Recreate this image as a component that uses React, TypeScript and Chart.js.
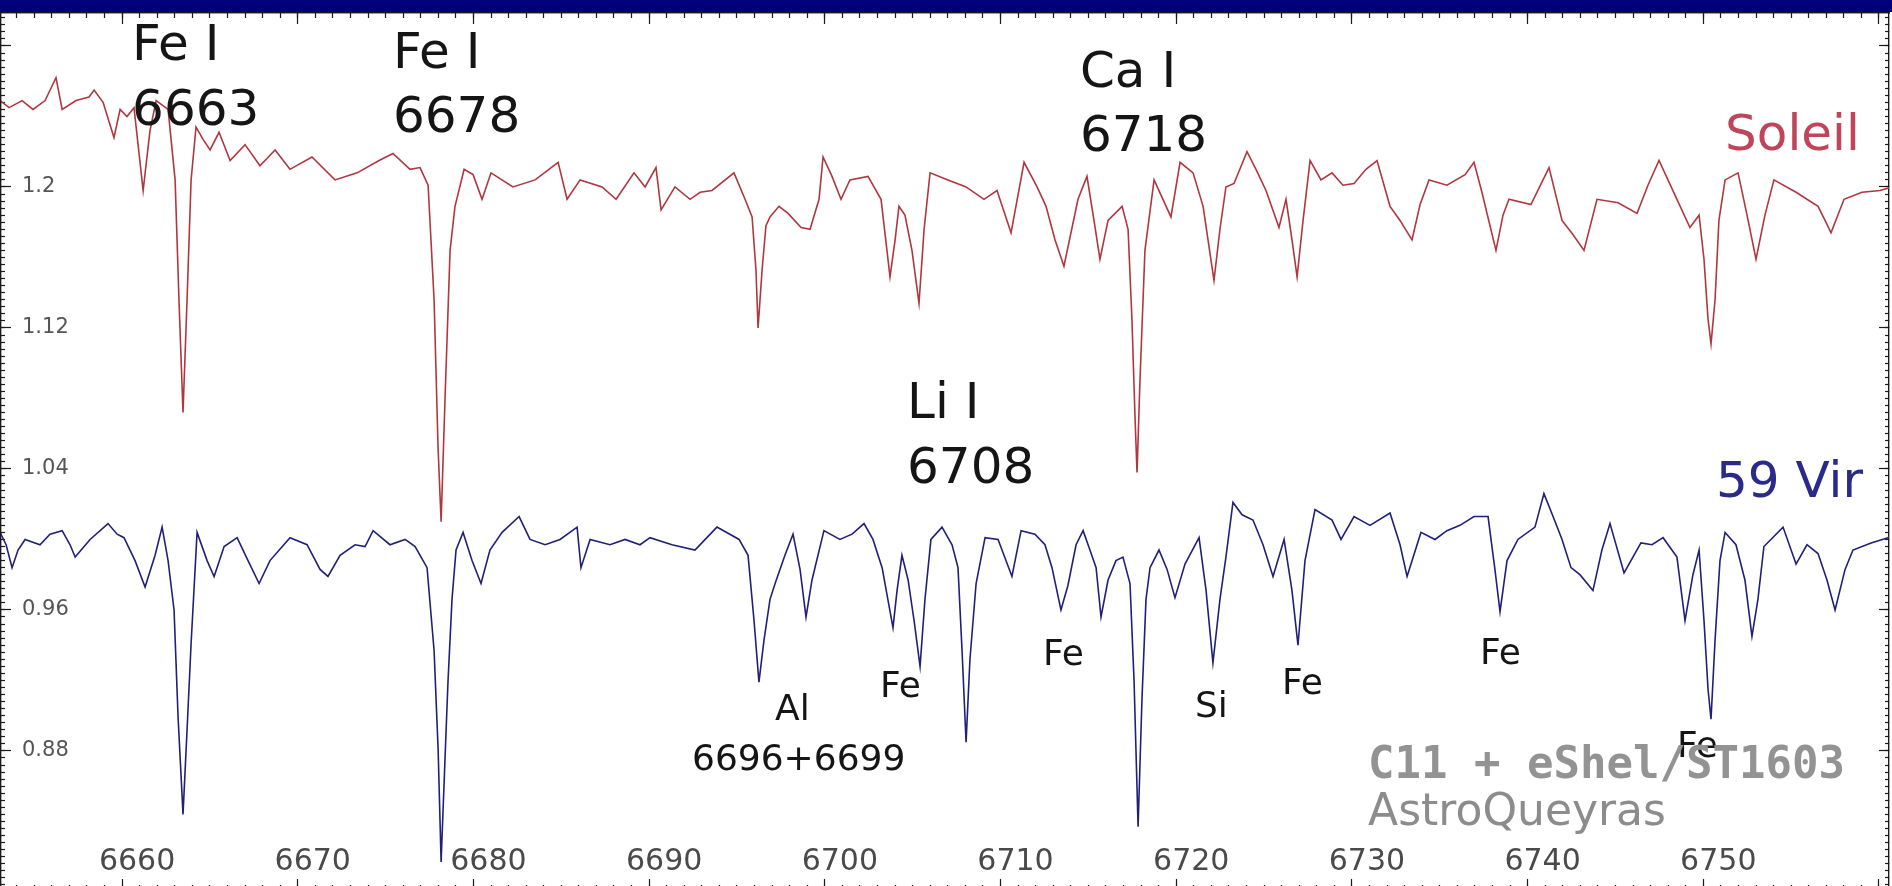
import React, { useEffect, useRef } from "react";
import { Chart, registerables } from "chart.js";

Chart.register(...registerables);

// ---- Data (wavelength in Å, relative flux) ----
const soleilWavelength = [
  6653.06, 6653.57, 6654.31, 6654.93, 6655.62, 6656.24, 6656.59, 6657.38, 6658.12, 6658.41,
  6658.92, 6659.54, 6659.89, 6660.28, 6660.68, 6661.2, 6661.59, 6661.94, 6662.62, 6663.02,
  6663.24, 6663.47, 6663.7, 6663.93, 6664.21, 6664.61, 6665.01, 6665.52, 6666.15, 6667.0,
  6667.85, 6668.71, 6669.56, 6670.81, 6672.12, 6673.38, 6674.63, 6675.42, 6676.39, 6676.96,
  6677.42, 6677.76, 6677.99, 6678.16, 6678.38, 6678.67, 6678.95, 6679.47, 6679.98, 6680.49,
  6681.0, 6682.25, 6683.51, 6684.82, 6685.33, 6686.07, 6687.32, 6688.12, 6689.14, 6689.77,
  6690.39, 6690.68, 6691.47, 6692.33, 6692.9, 6693.58, 6694.83, 6695.46, 6695.86, 6696.08,
  6696.2, 6696.43, 6696.65, 6696.88, 6697.39, 6697.91, 6698.65, 6699.16, 6699.67, 6699.9,
  6700.41, 6700.92, 6701.43, 6702.46, 6703.2, 6703.71, 6704.0, 6704.22, 6704.56, 6704.96,
  6705.36, 6705.65, 6705.99, 6707.01, 6708.04, 6709.06, 6709.8, 6710.6, 6711.34, 6712.08,
  6712.59, 6713.1, 6713.61, 6714.41, 6714.92, 6715.32, 6715.66, 6716.12, 6716.92, 6717.26,
  6717.48, 6717.66, 6717.77, 6717.94, 6718.22, 6718.74, 6719.7, 6720.22, 6720.96, 6721.53,
  6721.81, 6722.15, 6722.49, 6722.83, 6723.29, 6724.03, 6724.54, 6725.11, 6725.85, 6726.25,
  6726.59, 6726.88, 6727.22, 6727.62, 6728.24, 6728.87, 6729.49, 6730.12, 6730.8, 6731.43,
  6732.17, 6732.74, 6733.42, 6733.88, 6734.39, 6735.41, 6736.44, 6736.95, 6737.4, 6737.86,
  6738.2, 6738.6, 6738.94, 6740.19, 6741.22, 6741.96, 6742.58, 6743.21, 6743.95, 6745.15,
  6746.23, 6746.85, 6747.48, 6748.5, 6749.24, 6749.76, 6750.04, 6750.27, 6750.44, 6750.67,
  6750.89, 6751.24, 6751.98, 6752.49, 6753.0, 6753.51, 6754.02, 6755.28, 6756.53, 6756.93,
  6757.27, 6758.01, 6759.03, 6760.06, 6760.74,
];
const soleilFlux = [
  1.249, 1.245, 1.249, 1.244, 1.249, 1.262, 1.244, 1.249, 1.251, 1.255,
  1.248, 1.228, 1.244, 1.24, 1.245, 1.198, 1.232, 1.249, 1.244, 1.204,
  1.136, 1.072, 1.136, 1.204, 1.234, 1.227, 1.221, 1.231, 1.215, 1.224,
  1.212, 1.221, 1.21, 1.217, 1.204, 1.208, 1.215, 1.219, 1.21, 1.211,
  1.201, 1.136, 1.051, 1.01, 1.079, 1.164, 1.189, 1.21, 1.207, 1.193,
  1.208, 1.2, 1.204, 1.214, 1.193, 1.204, 1.2, 1.193, 1.208, 1.2,
  1.211, 1.187, 1.2, 1.193, 1.197, 1.198, 1.208, 1.193, 1.183, 1.153,
  1.12, 1.153, 1.178, 1.183, 1.189, 1.185, 1.177, 1.176, 1.193, 1.217,
  1.206, 1.193, 1.204, 1.206, 1.193, 1.149, 1.17, 1.189, 1.184, 1.164,
  1.134, 1.176, 1.208, 1.204, 1.2, 1.193, 1.198, 1.174, 1.214, 1.2,
  1.189, 1.17, 1.155, 1.193, 1.206, 1.181, 1.159, 1.181, 1.189, 1.176,
  1.125, 1.068, 1.038, 1.091, 1.164, 1.204, 1.183, 1.214, 1.208, 1.189,
  1.17, 1.147, 1.176, 1.2, 1.202, 1.22, 1.21, 1.198, 1.177, 1.193,
  1.17, 1.149, 1.181, 1.215, 1.204, 1.208, 1.201, 1.202, 1.21, 1.215,
  1.189, 1.181, 1.17, 1.19, 1.204, 1.201, 1.207, 1.214, 1.197, 1.178,
  1.164, 1.184, 1.193, 1.19, 1.211, 1.181, 1.173, 1.164, 1.193, 1.191,
  1.185, 1.201, 1.215, 1.193, 1.177, 1.184, 1.159, 1.125, 1.111, 1.136,
  1.181, 1.204, 1.208, 1.184, 1.159, 1.184, 1.204, 1.197, 1.189, 1.181,
  1.174, 1.193, 1.197, 1.198, 1.2,
];

const virWavelength = [
  6653.06, 6653.4, 6653.74, 6654.08, 6654.48, 6655.33, 6655.9, 6656.59, 6657.04, 6657.33,
  6658.18, 6659.2, 6659.72, 6660.11, 6660.74, 6661.31, 6661.88, 6662.28, 6662.62, 6662.96,
  6663.19, 6663.47, 6663.7, 6663.93, 6664.27, 6664.84, 6665.24, 6665.81, 6666.55, 6667.17,
  6667.8, 6668.42, 6669.56, 6670.53, 6671.27, 6671.72, 6672.41, 6673.26, 6673.83, 6674.29,
  6675.25, 6676.11, 6676.68, 6677.36, 6677.76, 6677.99, 6678.16, 6678.38, 6678.55, 6678.78,
  6679.01, 6679.41, 6679.92, 6680.43, 6680.94, 6681.63, 6682.6, 6683.22, 6684.08, 6684.93,
  6685.9, 6686.12, 6686.64, 6687.77, 6688.63, 6689.48, 6690.05, 6691.3, 6692.61, 6693.86,
  6695.12, 6695.63, 6695.97, 6696.25, 6696.54, 6696.88, 6697.17, 6697.73, 6698.19, 6698.59,
  6698.93, 6699.27, 6699.95, 6700.86, 6701.55, 6702.23, 6702.74, 6703.26, 6703.88, 6704.11,
  6704.39, 6704.74, 6705.08, 6705.42, 6705.7, 6706.04, 6706.67, 6707.24, 6707.58, 6707.81,
  6708.04, 6708.26, 6708.61, 6709.12, 6709.86, 6710.65, 6711.17, 6711.96, 6712.53, 6712.93,
  6713.44, 6713.84, 6714.3, 6714.7, 6715.09, 6715.44, 6715.72, 6716.12, 6716.57, 6716.97,
  6717.37, 6717.6, 6717.83, 6718.05, 6718.28, 6718.51, 6719.02, 6719.48, 6719.93, 6720.5,
  6721.3, 6721.7, 6722.09, 6722.49, 6722.83, 6723.23, 6723.75, 6724.37, 6724.94, 6725.51,
  6726.14, 6726.59, 6726.93, 6727.33, 6727.9, 6728.87, 6729.38, 6730.12, 6731.03, 6732.17,
  6732.74, 6733.14, 6733.93, 6734.73, 6735.41, 6736.15, 6736.95, 6737.75, 6738.14, 6738.43,
  6738.83, 6739.45, 6740.42, 6740.93, 6741.45, 6741.96, 6742.47, 6742.98, 6743.72, 6744.23,
  6744.69, 6745.49, 6746.45, 6747.08, 6747.71, 6748.5, 6748.96, 6749.41, 6749.76, 6750.04,
  6750.27, 6750.44, 6750.67, 6750.95, 6751.24, 6751.86, 6752.37, 6752.77, 6753.11, 6753.45,
  6754.54, 6755.28, 6755.9, 6756.53, 6757.04, 6757.5, 6758.07, 6758.52, 6759.55, 6760.51,
  6760.74,
];
const virFlux = [
  1.004, 0.997, 0.984, 0.994, 1.0, 0.997, 1.003, 1.005, 0.997, 0.99,
  1.0, 1.009, 1.003, 1.001, 0.988, 0.973, 0.991, 1.007, 0.988, 0.96,
  0.899, 0.844, 0.892, 0.941, 1.004, 0.988, 0.979, 0.996, 1.001, 0.988,
  0.975, 0.988, 1.001, 0.997, 0.983, 0.979, 0.991, 0.997, 0.996, 1.005,
  0.997, 1.0, 0.996, 0.984, 0.937, 0.881, 0.817, 0.875, 0.919, 0.966,
  0.994, 1.004, 0.988, 0.975, 0.994, 1.004, 1.013, 1.0, 0.997, 1.0,
  1.007, 0.984, 1.0, 0.997, 1.0, 0.997, 1.001, 0.997, 0.994, 1.007,
  1.0, 0.991, 0.954, 0.919, 0.943, 0.966, 0.975, 0.991, 1.003, 0.983,
  0.956, 0.977, 1.005, 1.0, 1.003, 1.009, 1.0, 0.984, 0.95, 0.971,
  0.991, 0.977, 0.954, 0.928, 0.966, 1.0, 1.007, 0.997, 0.984, 0.937,
  0.885, 0.932, 0.975, 1.001, 1.0, 0.979, 1.005, 1.003, 0.997, 0.984,
  0.96, 0.974, 0.997, 1.005, 0.994, 0.984, 0.956, 0.977, 0.988, 0.99,
  0.975, 0.92, 0.837, 0.909, 0.966, 0.984, 0.994, 0.983, 0.967, 0.986,
  1.001, 0.971, 0.93, 0.966, 0.99, 1.021, 1.014, 1.011, 0.997, 0.979,
  1.0, 0.971, 0.94, 0.988, 1.017, 1.011, 1.0, 1.013, 1.008, 1.015,
  0.997, 0.979, 1.004, 1.0, 1.005, 1.008, 1.013, 1.013, 0.983, 0.959,
  0.988, 1.0, 1.007, 1.026, 1.013, 1.0, 0.984, 0.98, 0.971, 0.994,
  1.009, 0.981, 0.998, 0.997, 1.001, 0.99, 0.954, 0.98, 0.994, 0.954,
  0.915, 0.898, 0.943, 0.988, 1.004, 0.997, 0.977, 0.945, 0.966, 0.996,
  1.007, 0.986, 0.997, 0.992, 0.977, 0.96, 0.983, 0.994, 0.998, 1.001,
  1.003,
];

// Axis ranges and tick steps
const xMin = 6653.11;
const xMax = 6760.57;
const yMin = 0.8011;
const yMax = 1.2987;
const xMajorStep = 10;
const xMinorStep = 1;
const yMajorStep = 0.08;
const yMinorStep = 0.004;

// Annotation texts anchored at (wavelength, flux), left / baseline
const annotationTexts = [
  "Fe I", "6663", "Fe I", "6678", "Ca I", "6718", "Li I", "6708",
  "Soleil", "59 Vir",
  "Al", "6696+6699", "Fe", "Fe", "Si", "Fe", "Fe", "Fe",
  "C11 + eShel/ST1603", "AstroQueyras",
];
const annotationWavelength = [
  6660.57, 6660.57, 6675.42, 6675.42, 6714.52, 6714.52, 6704.68, 6704.68,
  6751.24, 6750.72,
  6697.17, 6692.44, 6703.14, 6712.42, 6721.07, 6726.02, 6737.29, 6748.5,
  6730.92, 6730.92,
];
const annotationFlux = [
  1.272, 1.235, 1.2675, 1.2312, 1.2567, 1.2204, 1.0689, 1.0321,
  1.221, 1.0241,
  0.8976, 0.8692, 0.9106, 0.9288, 0.8993, 0.9123, 0.9294, 0.8766,
  0.8647, 0.838,
];
const annotationKind = [
  "ion", "ion", "ion", "ion", "ion", "ion", "ion", "ion",
  "sun", "vir",
  "line", "line", "line", "line", "line", "line", "line", "line",
  "mono", "credit",
];

const annotationStyles: Record<string, { font: string; color: string }> = {
  ion: { font: "50px 'DejaVu Sans'", color: "#151515" },
  sun: { font: "50px 'DejaVu Sans'", color: "#c0445a" },
  vir: { font: "50px 'DejaVu Sans'", color: "#2a2a8a" },
  line: { font: "36px 'DejaVu Sans'", color: "#151515" },
  mono: { font: "bold 44px 'DejaVu Sans Mono'", color: "#939393" },
  credit: { font: "44px 'DejaVu Sans'", color: "#8c8c8c" },
};

const annotationPlugin = {
  id: "spectrumAnnotations",
  beforeDraw(chart: any) {
    const ctx = chart.ctx;
    ctx.save();
    ctx.fillStyle = "#ffffff";
    ctx.fillRect(0, 0, chart.width, chart.height);
    ctx.fillStyle = "#00007a";
    ctx.fillRect(0, 0, chart.width, 12);
    ctx.restore();
  },
  afterDatasetsDraw(chart: any) {
    const ctx = chart.ctx;
    const xs = chart.scales.x;
    const ys = chart.scales.y;
    ctx.save();
    ctx.textAlign = "left";
    ctx.textBaseline = "alphabetic";
    annotationTexts.forEach((t, i) => {
      const st = annotationStyles[annotationKind[i]];
      ctx.font = st.font;
      ctx.fillStyle = st.color;
      ctx.fillText(t, xs.getPixelForValue(annotationWavelength[i]), ys.getPixelForValue(annotationFlux[i]));
    });
    ctx.restore();
  },
};

const zeroFit = (horizontal: boolean) => (s: any) => {
  if (horizontal) s.height = 0; else s.width = 0;
  s.paddingTop = 0;
  s.paddingBottom = 0;
  s.paddingLeft = 0;
  s.paddingRight = 0;
};

function xAxis(position: string, major: boolean, labels: boolean) {
  return {
    type: "linear",
    position,
    min: xMin,
    max: xMax,
    afterFit: zeroFit(true),
    border: { display: true, color: "#1a1a1a", width: 1.2 },
    grid: { display: true, drawOnChartArea: false, drawTicks: true, tickLength: major ? -11 : -5, color: "#1a1a1a", tickWidth: 1.2 },
    ticks: {
      display: labels,
      stepSize: major ? xMajorStep : xMinorStep,
      includeBounds: false,
      autoSkip: false,
      maxRotation: 0,
      mirror: true,
      padding: 10,
      labelOffset: 15,
      color: "#4a4a4a",
      font: { family: "'DejaVu Sans'", size: 30 },
      callback: (v: number) => (v > 6755 ? "" : String(v)),
    },
  };
}

function yAxis(position: string, major: boolean, labels: boolean) {
  return {
    type: "linear",
    position,
    min: yMin,
    max: yMax,
    afterFit: zeroFit(false),
    border: { display: true, color: "#1a1a1a", width: 1.2 },
    grid: { display: true, drawOnChartArea: false, drawTicks: true, tickLength: major ? -10 : -4, color: "#1a1a1a", tickWidth: 1.2 },
    ticks: {
      display: labels,
      stepSize: major ? yMajorStep : yMinorStep,
      includeBounds: false,
      autoSkip: false,
      mirror: true,
      padding: 21,
      color: "#555555",
      font: { family: "'DejaVu Sans'", size: 21 },
      callback: (v: number) => (v > 1.25 ? "" : String(Number(v.toFixed(3)))),
    },
  };
}

export default function App() {
  const canvasRef = useRef<HTMLCanvasElement | null>(null);

  useEffect(() => {
    document.body.style.margin = "0";
    const canvas = canvasRef.current;
    if (!canvas) return;
    const chart = new Chart(canvas, {
      type: "line",
      data: {
        datasets: [
          {
            label: "Soleil",
            data: soleilWavelength.map((w, i) => ({ x: w, y: soleilFlux[i] })),
            borderColor: "#b0363f",
            borderWidth: 1.6,
            pointRadius: 0,
            tension: 0,
          },
          {
            label: "59 Vir",
            data: virWavelength.map((w, i) => ({ x: w, y: virFlux[i] })),
            borderColor: "#20207a",
            borderWidth: 1.6,
            pointRadius: 0,
            tension: 0,
          },
        ],
      },
      options: {
        animation: false,
        responsive: false,
        maintainAspectRatio: false,
        devicePixelRatio: 1,
        layout: { padding: { top: 13, left: 1, right: 3, bottom: 2 } },
        plugins: { legend: { display: false }, tooltip: { enabled: false } },
        scales: {
          x: xAxis("bottom", true, true),
          xMinor: xAxis("bottom", false, false),
          xTop: xAxis("top", true, false),
          xTopMinor: xAxis("top", false, false),
          y: yAxis("left", true, true),
          yMinor: yAxis("left", false, false),
          yRight: yAxis("right", true, false),
          yRightMinor: yAxis("right", false, false),
        } as any,
      },
      plugins: [annotationPlugin],
    });
    return () => chart.destroy();
  }, []);

  return (
    <div style={{ width: 1892, height: 886, overflow: "hidden", position: "relative" }}>
      <canvas ref={canvasRef} width={1892} height={892} style={{ display: "block" }} />
    </div>
  );
}
